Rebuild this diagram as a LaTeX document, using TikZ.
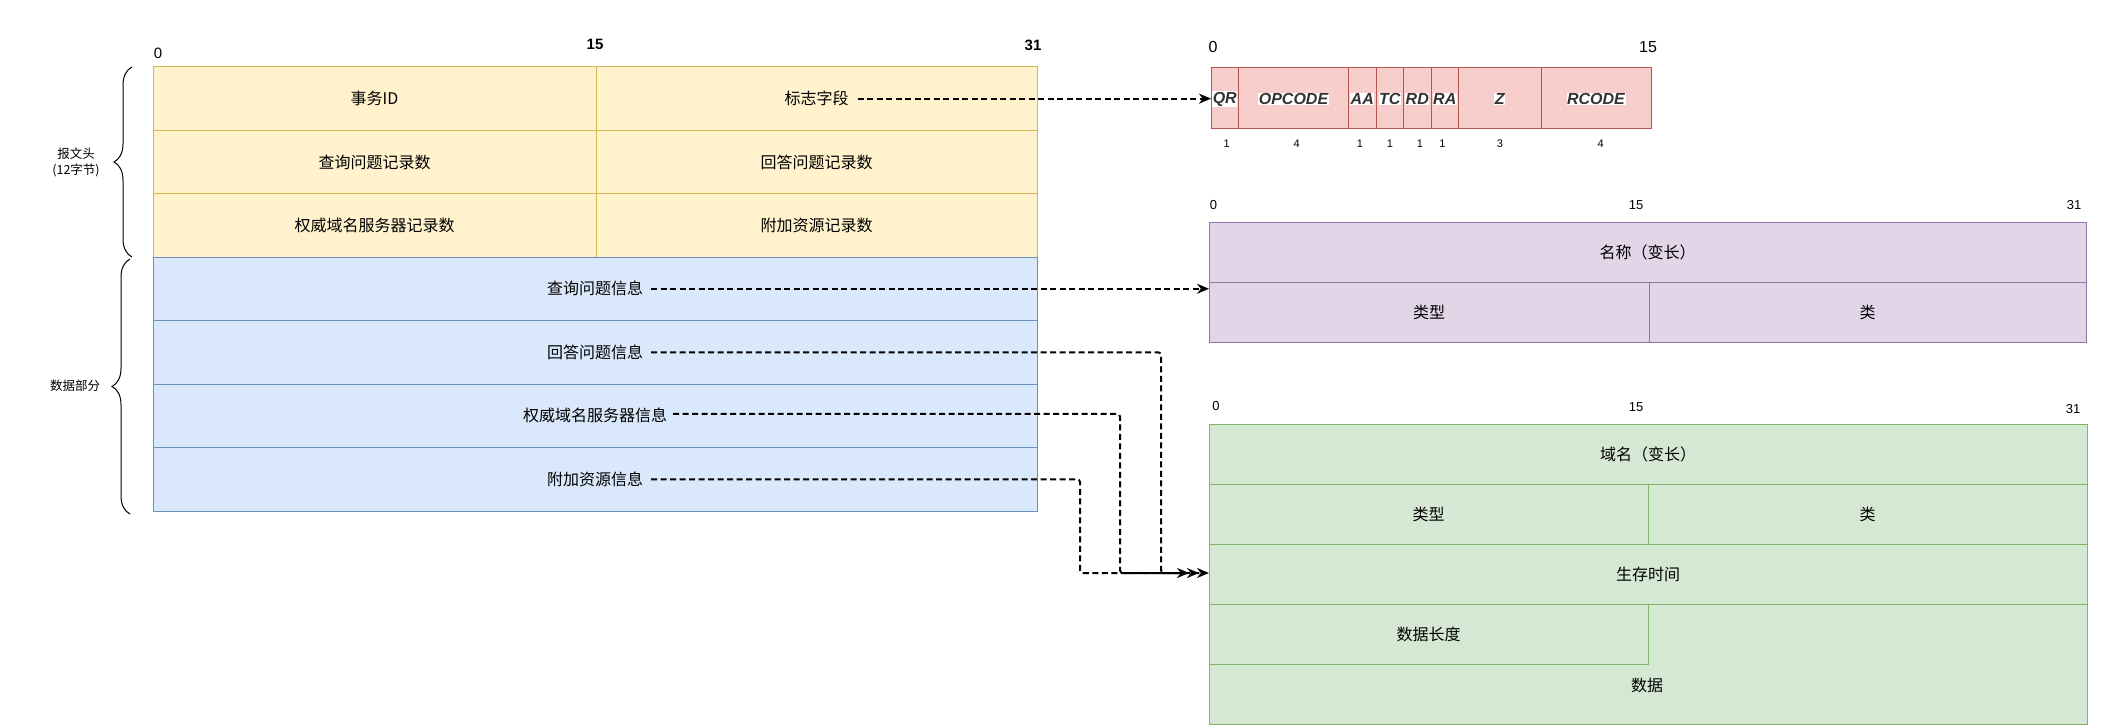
\documentclass[tikz,border=0pt]{standalone}
\usepackage{fontspec}
\setmainfont{Liberation Sans}
\newfontfamily\cjk{Noto Sans CJK SC}
\usetikzlibrary{arrows.meta,decorations.pathreplacing,calc}
\definecolor{yfill}{HTML}{FFF2CC}\definecolor{ydraw}{HTML}{D6B656}
\definecolor{bfill}{HTML}{DAE8FC}\definecolor{bdraw}{HTML}{6C8EBF}
\definecolor{rfill}{HTML}{F8CECC}\definecolor{rdraw}{HTML}{B85450}
\definecolor{pfill}{HTML}{E1D5E7}\definecolor{pdraw}{HTML}{9673A6}
\definecolor{gfill}{HTML}{D5E8D4}\definecolor{gdraw}{HTML}{82B366}
\definecolor{flagtext}{HTML}{333333}
\begin{document}
\begin{tikzpicture}[x=1pt,y=-1pt,
  cell/.style={draw, line width=1pt, inner sep=0pt, outer sep=0pt, anchor=north west},
  ycell/.style={cell, fill=yfill, draw=ydraw},
  bcell/.style={cell, fill=bfill, draw=bdraw},
  rcell/.style={cell, fill=rfill, draw=rdraw, minimum height=60pt},
  pcell/.style={cell, fill=pfill, draw=pdraw},
  gcell/.style={cell, fill=gfill, draw=gdraw},
  txt/.style={font=\cjk\fontsize{16}{19}\selectfont, inner sep=1pt},
  side/.style={font=\cjk\fontsize{12.5}{16}\selectfont, align=center, inner sep=1pt},
  num/.style={font=\fontsize{15}{18}\selectfont, inner sep=1pt},
  bnum/.style={font=\bfseries\fontsize{15}{18}\selectfont, inner sep=1pt},
  snum/.style={font=\fontsize{13}{16}\selectfont, inner sep=1pt},
  bits/.style={font=\fontsize{11}{13}\selectfont, inner sep=1pt},
  flag/.style={font=\bfseries\itshape\fontsize{16}{19}\selectfont, text=flagtext, fill=white, inner sep=0.6pt},
  bracestyle/.style={draw, line width=1pt, decorate, decoration={brace, amplitude=18pt}},
  conn/.style={line width=2pt, dash pattern=on 6pt off 3.5pt, rounded corners=3pt, -{Stealth[length=12pt,width=10pt]}}]
\useasboundingbox (0,0) rectangle (2101,725);

% ---------- header (yellow) ----------
\node[ycell, minimum width=443pt, minimum height=63.3pt] (y1l) at (153,67) {};
\node[ycell, minimum width=441pt, minimum height=63.3pt] (y1r) at (596,67) {};
\node[ycell, minimum width=443pt, minimum height=63.4pt] (y2l) at (153,130.3) {};
\node[ycell, minimum width=441pt, minimum height=63.4pt] (y2r) at (596,130.3) {};
\node[ycell, minimum width=443pt, minimum height=63.3pt] (y3l) at (153,193.7) {};
\node[ycell, minimum width=441pt, minimum height=63.3pt] (y3r) at (596,193.7) {};
\node[txt] (tid) at (y1l.center) {事务ID};
\node[txt] (flagtxt) at (y1r.center) {标志字段};
\node[txt] (qdcnt) at (y2l.center) {查询问题记录数};
\node[txt] (ancnt) at (y2r.center) {回答问题记录数};
\node[txt] (nscnt) at (y3l.center) {权威域名服务器记录数};
\node[txt] (arcnt) at (y3r.center) {附加资源记录数};
\node[num] (h0) at (158,53) {0};
\node[bnum] (h15) at (595,44) {15};
\node[bnum] (h31) at (1033,45) {31};

% ---------- data part (blue) ----------
\node[bcell, minimum width=884pt, minimum height=63.5pt] (b1) at (153,257) {};
\node[bcell, minimum width=884pt, minimum height=63.5pt] (b2) at (153,320.5) {};
\node[bcell, minimum width=884pt, minimum height=63.5pt] (b3) at (153,384) {};
\node[bcell, minimum width=884pt, minimum height=63.5pt] (b4) at (153,447.5) {};
\node[txt] (cxtxt) at (b1.center) {查询问题信息};
\node[txt] (hdtxt) at (b2.center) {回答问题信息};
\node[txt] (qwtxt) at (b3.center) {权威域名服务器信息};
\node[txt] (fjtxt) at (b4.center) {附加资源信息};

% ---------- braces ----------
\draw[bracestyle] (132,257) -- (132,67);
\draw[bracestyle] (130,514) -- (130,259);
\node[side] (hdrlbl) at (76,162) {报文头\\(12字节)};
\node[side] (datalbl) at (75,386) {数据部分};

% ---------- flags (red) ----------
\node[rcell, minimum width=27.5pt]  (qr) at (1211,68) {};
\node[rcell, minimum width=110pt]   (op) at (1238.5,68) {};
\node[rcell, minimum width=27.5pt]  (aa) at (1348.5,68) {};
\node[rcell, minimum width=27.5pt]  (tc) at (1376,68) {};
\node[rcell, minimum width=27.5pt]  (rd) at (1403.5,68) {};
\node[rcell, minimum width=27.5pt]  (ra) at (1431,68) {};
\node[rcell, minimum width=82.5pt]  (zz) at (1458.5,68) {};
\node[rcell, minimum width=110pt]   (rc) at (1541,68) {};
\node[flag] (qrt) at ($(qr.center)+(0,1)$) {QR};
\node[flag] (opt) at ($(op.center)+(0,1)$) {OPCODE};
\node[flag] (aat) at ($(aa.center)+(0,1)$) {AA};
\node[flag] (tct) at ($(tc.center)+(0,1)$) {TC};
\node[flag] (rdt) at ($(rd.center)+(0,1)$) {RD};
\node[flag] (rat) at ($(ra.center)+(0,1)$) {RA};
\node[flag] (zzt) at ($(zz.center)+(0,1)$) {Z};
\node[flag] (rct) at ($(rc.center)+(0,1)$) {RCODE};
\node[bits] (bq) at (1226.7,144) {1};
\node[bits] (bo) at (1296.7,144) {4};
\node[bits] (ba) at (1360,144) {1};
\node[bits] (bt) at (1390,144) {1};
\node[bits] (bd) at (1420,144) {1};
\node[bits] (br) at (1442.3,144) {1};
\node[bits] (bz) at (1500,144) {3};
\node[bits] (bc) at (1600.7,144) {4};
\node[num, font=\fontsize{16}{19}\selectfont] (f0) at (1213,47) {0};
\node[num, font=\fontsize{16}{19}\selectfont] (f15) at (1648,47) {15};

% ---------- question (purple) ----------
\node[pcell, minimum width=877pt, minimum height=60pt] (pname) at (1209,222) {};
\node[pcell, minimum width=440pt, minimum height=60.5pt] (ptype) at (1209,282) {};
\node[pcell, minimum width=437pt, minimum height=60.5pt] (pclass) at (1649,282) {};
\node[txt] (pnamet) at (pname.center) {名称（变长）};
\node[txt] (ptypet) at (ptype.center) {类型};
\node[txt] (pclasst) at (pclass.center) {类};
\node[snum] (p0) at (1213.5,205) {0};
\node[snum] (p15) at (1636,205) {15};
\node[snum] (p31) at (2074,205) {31};

% ---------- resource record (green) ----------
\node[gcell, minimum width=878pt, minimum height=60pt] (gname) at (1209,424) {};
\node[gcell, minimum width=439pt, minimum height=60pt] (gtype) at (1209,484) {};
\node[gcell, minimum width=439pt, minimum height=60pt] (gclass) at (1648,484) {};
\node[gcell, minimum width=878pt, minimum height=60pt] (ttl) at (1209,544) {};
\node[gcell, minimum width=878pt, minimum height=120pt] (gdata) at (1209,604) {};
\node[gcell, minimum width=439pt, minimum height=60pt] (glen) at (1209,604) {};
\node[txt] (gnamet) at (gname.center) {域名（变长）};
\node[txt] (gtypet) at (gtype.center) {类型};
\node[txt] (gclasst) at (gclass.center) {类};
\node[txt] (ttlt) at (ttl.center) {生存时间};
\node[txt] (glent) at (glen.center) {数据长度};
\node[txt] (gdatat) at (1647,685) {数据};
\node[snum] (g0) at (1216,406) {0};
\node[snum] (g15) at (1636,407) {15};
\node[snum] (g31) at (2073,409) {31};

% ---------- connectors ----------
\coordinate (v1) at (1161,0);
\coordinate (v2) at (1120,0);
\coordinate (v3) at (1080,0);
\draw[conn] ($(flagtxt.east)+(8,0)$) -- (flagtxt.east -| qr.west);
\draw[conn] ($(cxtxt.east)+(7,0)$) -- (cxtxt.east -| ptype.west);
\draw[conn] ($(hdtxt.east)+(7,0)$) -- (hdtxt.east -| v1) |- ($(ttl.west)+(0,-1)$);
\draw[conn] ($(qwtxt.east)+(5,-2)$) -- ($(qwtxt.east -| v2)+(0,-2)$) |- ($(ttl.west)+(-10,-1)$);
\draw[conn] ($(fjtxt.east)+(7,0)$) -- (fjtxt.east -| v3) |- ($(ttl.west)+(-20,-1)$);
\end{tikzpicture}
\end{document}
